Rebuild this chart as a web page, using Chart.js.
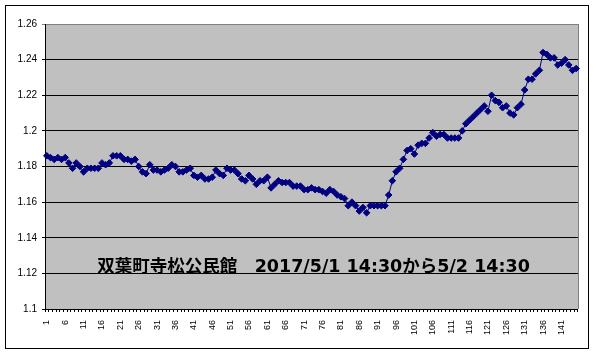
<!DOCTYPE html>
<html><head><meta charset="utf-8">
<script src="https://cdn.jsdelivr.net/npm/chart.js@4"></script>
<style>html,body{margin:0;padding:0;background:#fff}#wrap{position:relative;width:595px;height:354px}</style>
</head><body><div id="wrap"><canvas id="c" width="595" height="354"></canvas></div>
<script>
// ---- data ----
const categories = Array.from({length: 145}, (_, i) => String(i + 1));
const values = [
  1.186,1.185,1.184,1.185,1.184,1.185,1.182,1.179,1.182,1.180,
  1.177,1.179,1.179,1.179,1.179,1.182,1.181,1.182,1.186,1.186,
  1.186,1.184,1.184,1.183,1.184,1.180,1.177,1.176,1.181,1.178,
  1.178,1.177,1.178,1.179,1.181,1.180,1.177,1.177,1.178,1.179,
  1.175,1.174,1.175,1.173,1.173,1.174,1.178,1.176,1.175,1.179,
  1.178,1.178,1.176,1.173,1.172,1.175,1.173,1.170,1.172,1.172,
  1.174,1.168,1.170,1.172,1.171,1.171,1.171,1.169,1.169,1.169,
  1.167,1.167,1.168,1.167,1.167,1.166,1.165,1.167,1.166,1.164,
  1.163,1.162,1.158,1.160,1.158,1.155,1.157,1.154,1.158,1.158,
  1.158,1.158,1.158,1.164,1.172,1.177,1.179,1.184,1.189,1.190,
  1.187,1.192,1.193,1.193,1.196,1.199,1.197,1.198,1.198,1.196,
  1.196,1.196,1.196,1.200,1.204,1.206,1.208,1.210,1.212,1.214,
  1.211,1.220,1.217,1.216,1.213,1.214,1.210,1.209,1.213,1.215,
  1.223,1.229,1.229,1.232,1.234,1.244,1.243,1.241,1.241,1.237,
  1.238,1.240,1.237,1.234,1.235
];
const yMin = 1.1, yMax = 1.26, yStep = 0.02;
const xLabelEvery = 5;
const titleText = "双葉町寺松公民館　2017/5/1 14:30から5/2 14:30";

// ---- decoration plugin ----
const deco = {
  id: 'deco',
  beforeDraw(chart) {
    const {ctx, chartArea: a} = chart;
    ctx.save();
    ctx.fillStyle = '#fff';
    ctx.fillRect(0, 0, chart.width, chart.height);
    ctx.strokeStyle = '#000';
    ctx.lineWidth = 1;
    ctx.strokeRect(5.5, 5.5, 583, 343);
    ctx.fillStyle = '#C0C0C0';
    ctx.fillRect(a.left, a.top, a.right - a.left, a.bottom - a.top);
    ctx.strokeStyle = '#808080';
    ctx.beginPath();
    ctx.moveTo(Math.round(a.right) + 0.5, a.top);
    ctx.lineTo(Math.round(a.right) + 0.5, a.bottom);
    ctx.stroke();
    ctx.restore();
  },
  afterDatasetsDraw(chart) {
    const {ctx, chartArea: a} = chart;
    ctx.save();
    ctx.font = 'bold 17.5px "DejaVu Sans", "Noto Sans CJK JP"';
    ctx.fillStyle = '#000';
    ctx.textAlign = 'center';
    ctx.textBaseline = 'alphabetic';
    ctx.fillText(titleText, (a.left + a.right) / 2 + 2, 272);
    ctx.restore();
  }
};

new Chart(document.getElementById('c'), {
  type: 'line',
  data: {
    labels: categories,
    datasets: [{
      data: values,
      borderColor: '#000080',
      borderWidth: 1,
      pointStyle: 'rectRot',
      pointRadius: 3.3,
      pointBackgroundColor: '#000080',
      pointBorderColor: '#000080',
      pointBorderWidth: 1,
      tension: 0,
      clip: false
    }]
  },
  options: {
    responsive: false,
    animation: false,
    devicePixelRatio: 1,
    layout: {padding: {left: 0, top: 24, right: 16, bottom: 0}},
    plugins: {legend: {display: false}, tooltip: {enabled: false}, title: {display: false}},
    scales: {
      x: {
        type: 'category',
        offset: true,
        afterFit: s => { s.height = 45; },
        grid: {display: true, drawOnChartArea: false, offset: true, color: '#000', tickLength: 3, lineWidth: 1},
        border: {display: true, color: '#000', width: 1},
        ticks: {
          autoSkip: false, maxRotation: 90, minRotation: 90, padding: 8,
          color: '#000', font: {family: '"Liberation Sans", Arial', size: 9},
          callback: (v, i) => (i % xLabelEvery === 0 ? categories[i] : '')
        }
      },
      y: {
        type: 'linear', min: yMin, max: yMax,
        afterFit: s => { s.width = 45; },
        grid: {
          color: c => (c.tick && c.tick.value > yMax - 0.001 ? '#808080' : '#000'),
          tickLength: 3, lineWidth: 1
        },
        border: {display: true, color: '#000', width: 1},
        ticks: {
          stepSize: yStep, padding: 5, color: '#000',
          font: {family: '"Liberation Sans", Arial', size: 10},
          callback: v => String(+v.toFixed(2))
        }
      }
    }
  },
  plugins: [deco]
});
</script></body></html>
